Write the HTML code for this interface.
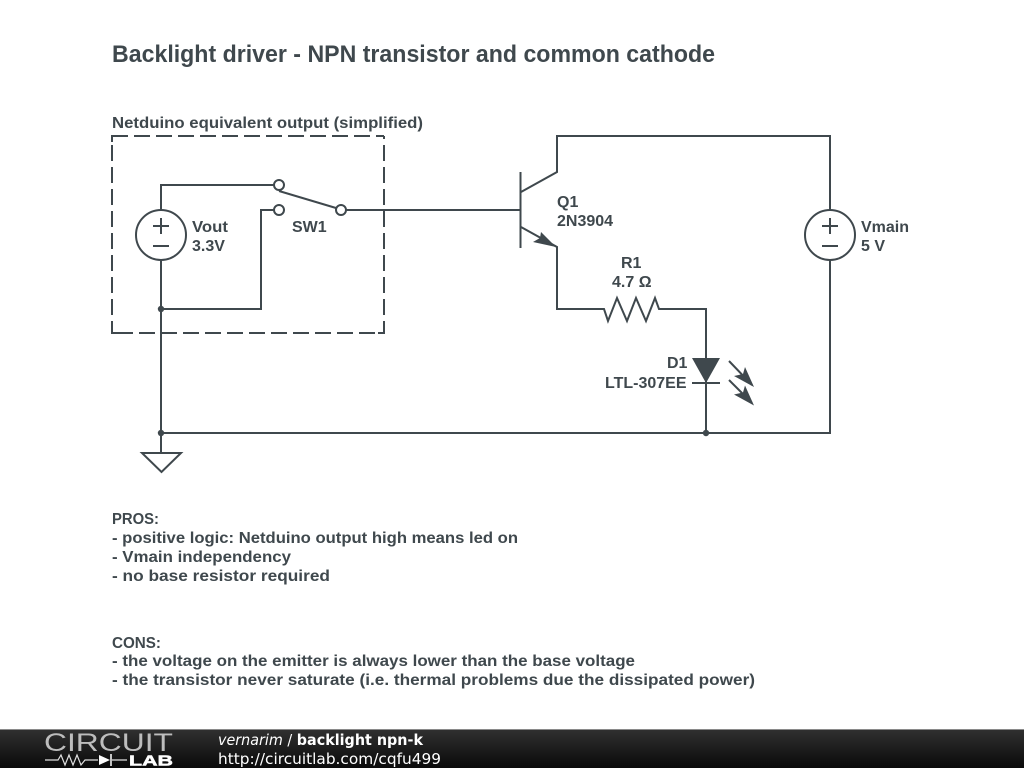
<!DOCTYPE html>
<html><head><meta charset="utf-8"><style>
html,body{margin:0;padding:0;background:#fff;width:1024px;height:768px;overflow:hidden}
svg{display:block;filter:blur(0.3px)}
text{font-family:"Liberation Sans",sans-serif;font-weight:bold;fill:#3f484d}
.l{font-size:16px}
.w{fill:none;stroke:#3f484d;stroke-width:2}
.d{fill:none;stroke:#3f484d;stroke-width:2;stroke-dasharray:16 6}
.f{font-family:"DejaVu Sans",sans-serif;font-size:15.5px;fill:#fff;font-weight:normal}
</style></head><body>
<svg width="1024" height="768" viewBox="0 0 1024 768" xmlns="http://www.w3.org/2000/svg">
<defs><linearGradient id="g" x1="0" y1="0" x2="0" y2="1"><stop offset="0" stop-color="#303030"/><stop offset="1" stop-color="#0a0a0a"/></linearGradient></defs>
<rect width="1024" height="768" fill="#fff"/>
<text x="112" y="62" font-size="24" textLength="603" lengthAdjust="spacingAndGlyphs">Backlight driver - NPN transistor and common cathode</text>
<text class="l" x="112" y="128" textLength="311" lengthAdjust="spacingAndGlyphs">Netduino equivalent output (simplified)</text>
<!-- dashed box -->
<path class="d" d="M112 136H384"/>
<path class="d" d="M384 333V136" stroke-dashoffset="4"/>
<path class="d" d="M112 333H384" stroke-dashoffset="17"/>
<path class="d" d="M112 136V333" stroke-dashoffset="13"/>
<path class="w" d="M112 142V136H118M378 333H384V327M112 327V333H118"/>
<!-- wires -->
<path class="w" d="M161 210V185H274M161 260V453M161 309H261V210H274M346 210H521M279 191L336 208"/>
<circle class="w" cx="279" cy="185" r="5"/><circle class="w" cx="279" cy="210" r="5"/><circle class="w" cx="341" cy="210" r="5"/>
<!-- Vout -->
<circle class="w" cx="161" cy="235" r="25"/>
<path class="w" d="M153 226H169M161 218V234M153 246H169"/>
<text class="l" x="192" y="232" textLength="36" lengthAdjust="spacingAndGlyphs">Vout</text><text class="l" x="192" y="251">3.3V</text>
<text class="l" x="292" y="232">SW1</text>
<circle cx="161" cy="309" r="3.2" fill="#3f484d"/>
<!-- transistor -->
<path class="w" d="M520.500 172V248M521 192L557 172V136H830V210M521 227L557 247V309H604L608 321L617 298L627 321L636 298L646 321L655 298L659 309H706V433M830 260V433H161"/>
<path d="M556 247L541 232L540 238L533 242Z" fill="#3f484d"/>
<text class="l" x="557" y="207">Q1</text><text class="l" x="557" y="226">2N3904</text>
<text class="l" x="621" y="268">R1</text><text class="l" x="612" y="287">4.7 Ω</text>
<!-- Vmain -->
<circle class="w" cx="830" cy="235" r="25"/>
<path class="w" d="M822 226H838M830 218V234M822 246H838"/>
<text class="l" x="861" y="232">Vmain</text><text class="l" x="861" y="251">5 V</text>
<!-- LED -->
<path d="M692 358H720L706 383Z" fill="#3f484d"/>
<path class="w" d="M692 383H720"/>
<text class="l" x="667" y="368">D1</text><text class="l" x="605" y="388">LTL-307EE</text>
<path class="w" d="M729 361L752 385M729 380L752 403"/>
<path d="M754 387L745 367L743 374L734 376Z M754 405.500L745 385.500L743 392.500L734 394.500Z" fill="#3f484d"/>
<circle cx="706" cy="433" r="3.2" fill="#3f484d"/>
<circle cx="161" cy="433" r="3.2" fill="#3f484d"/>
<!-- ground -->
<path class="w" d="M142 453H181L161.500 472Z"/>
<!-- notes -->
<text class="l" x="112" y="524" textLength="47" lengthAdjust="spacingAndGlyphs">PROS:</text>
<text class="l" x="112" y="543" textLength="406" lengthAdjust="spacingAndGlyphs">- positive logic: Netduino output high means led on</text>
<text class="l" x="112" y="562" textLength="179" lengthAdjust="spacingAndGlyphs">- Vmain independency</text>
<text class="l" x="112" y="581" textLength="218" lengthAdjust="spacingAndGlyphs">- no base resistor required</text>
<text class="l" x="112" y="648" textLength="49" lengthAdjust="spacingAndGlyphs">CONS:</text>
<text class="l" x="112" y="666" textLength="523" lengthAdjust="spacingAndGlyphs">- the voltage on the emitter is always lower than the base voltage</text>
<text class="l" x="112" y="685" textLength="643" lengthAdjust="spacingAndGlyphs">- the transistor never saturate (i.e. thermal problems due the dissipated power)</text>
<!-- footer -->
<rect y="729" width="1024" height="39" fill="url(#g)"/>
<rect y="729" width="1024" height="1" fill="#8a8a8a"/>
<text x="44" y="751" font-size="25" style="font-weight:normal;fill:#bdbdbd" textLength="129" lengthAdjust="spacingAndGlyphs">CIRCUIT</text>
<path d="M45 760H58L61 755L65 765L69 755L73 765L77 755L81 765L85 760H98M112 760H127" fill="none" stroke="#e0e0e0" stroke-width="1.200"/>
<path d="M99 755L110 760L99 765Z" fill="#fff"/><path d="M111 754V766" stroke="#fff" stroke-width="1.500"/>
<text x="129" y="765.500" font-size="14.500" style="fill:#fff;stroke:#fff;stroke-width:.5" textLength="44" lengthAdjust="spacingAndGlyphs">LAB</text>
<text class="f" x="218" y="745" textLength="205" lengthAdjust="spacingAndGlyphs"><tspan font-style="italic">vernarim</tspan> / <tspan font-weight="bold">backlight npn-k</tspan></text>
<text class="f" x="218" y="764" textLength="223" lengthAdjust="spacingAndGlyphs">http://circuitlab.com/cqfu499</text>
</svg>
</body></html>
